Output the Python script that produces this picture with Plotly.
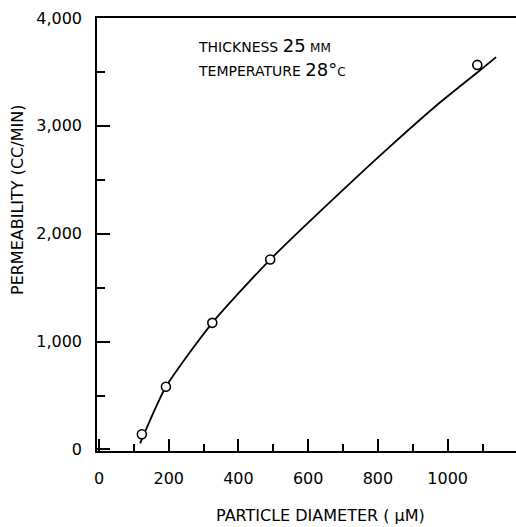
import plotly.graph_objects as go

# measured data points
diameter = [123, 192, 325, 491, 1085]
permeability = [141, 581, 1174, 1761, 3565]

# fitted curve
curve_x = [118, 192, 325, 491, 719, 843, 972, 1085, 1139]
curve_y = [57, 581, 1174, 1761, 2465, 2833, 3200, 3495, 3637]

x_tick_vals = [0, 200, 400, 600, 800, 1000]
x_tick_text = ["0", "200", "400", "600", "800", "1000"]
y_tick_vals = [0, 1000, 2000, 3000, 4000]
y_tick_text = ["0", "1,000", "2,000", "3,000", "4,000"]

FONT = "DejaVu Sans, sans-serif"

W, H = 516, 527
L, R, T, B = 97, 0, 18, 76
pw, ph = W - L - R, H - T - B

def px(xp):
    return (xp - L) / pw

def py(yp):
    return (H - B - yp) / ph

fig = go.Figure()
fig.add_trace(go.Scatter(x=curve_x, y=curve_y, mode="lines",
                         line=dict(color="black", width=1.8, shape="spline", smoothing=0.6),
                         hoverinfo="skip", showlegend=False))
fig.add_trace(go.Scatter(x=diameter, y=permeability, mode="markers",
                         marker=dict(symbol="circle", size=9, color="white",
                                     line=dict(color="black", width=1.6)),
                         showlegend=False))

fig.update_layout(
    width=W, height=H,
    margin=dict(l=L, r=R, t=T, b=B, pad=0),
    paper_bgcolor="white", plot_bgcolor="white",
    font=dict(family=FONT, color="black", size=16),
    showlegend=False,
)
fig.update_xaxes(range=[-5.7, 1196], showgrid=False, zeroline=False,
                 showline=True, linecolor="black", linewidth=1.5, mirror=True,
                 tickmode="array", tickvals=x_tick_vals, ticktext=x_tick_text,
                 ticks="inside", ticklen=12, tickwidth=1.5, tickcolor="black",
                 ticklabelstandoff=12,
                 minor=dict(tickmode="array", tickvals=[100, 300, 500, 700, 900, 1100],
                            ticks="inside", ticklen=7, tickwidth=1.5, tickcolor="black",
                            showgrid=False),
                 tickfont=dict(family=FONT, size=16))
fig.update_yaxes(range=[-14, 4000], showgrid=False, zeroline=False,
                 showline=True, linecolor="black", linewidth=1.5, mirror=False,
                 tickmode="array", tickvals=y_tick_vals, ticktext=y_tick_text,
                 ticks="inside", ticklen=13, tickwidth=1.5, tickcolor="black",
                 ticklabelstandoff=10,
                 minor=dict(tickmode="array", tickvals=[500, 1500, 2500, 3500],
                            ticks="inside", ticklen=8, tickwidth=1.5, tickcolor="black",
                            showgrid=False),
                 tickfont=dict(family=FONT, size=16))

ann = dict(xref="paper", yref="paper", showarrow=False, font=dict(family=FONT, size=14, color="black"))
fig.add_annotation(x=px(196), y=py(45), xanchor="left", yanchor="middle",
                   text='THICKNESS <span style="font-size:18px">25</span> <span style="font-size:12px">MM</span>', **ann)
fig.add_annotation(x=px(196), y=py(70), xanchor="left", yanchor="middle",
                   text='TEMPERATURE <span style="font-size:18px">28°</span><span style="font-size:12px">C</span>', **ann)
fig.add_annotation(x=px(320), y=py(515), xanchor="center", yanchor="middle",
                   text='PARTICLE DIAMETER ( μM)', font=dict(family=FONT, size=16, color="black"),
                   xref="paper", yref="paper", showarrow=False)
fig.add_annotation(x=px(18), y=py(200), xanchor="center", yanchor="middle", textangle=-90,
                   text='PERMEABILITY (CC/MIN)', font=dict(family=FONT, size=16, color="black"),
                   xref="paper", yref="paper", showarrow=False)

fig.write_html("out.html")
